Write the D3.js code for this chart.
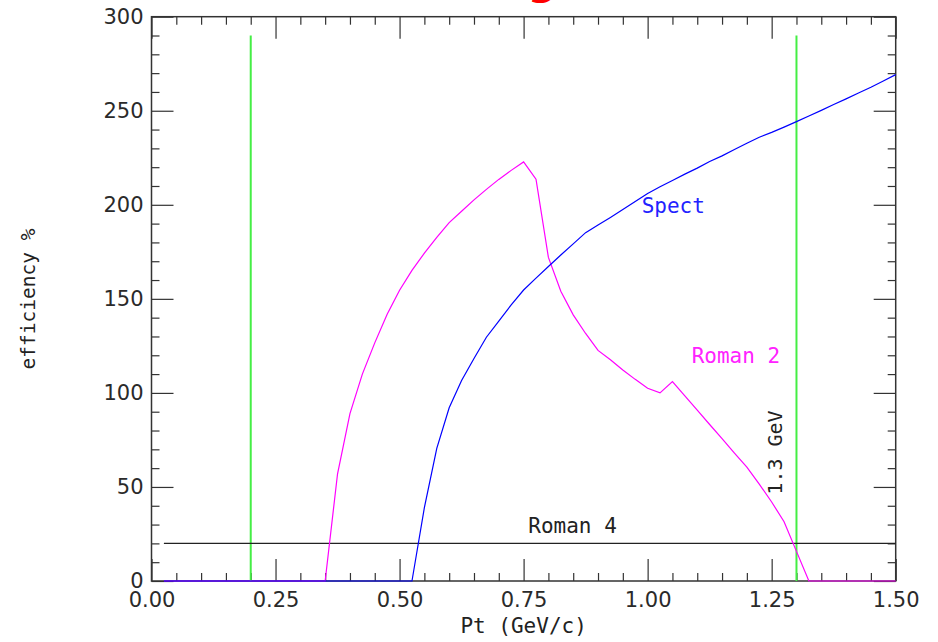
<!DOCTYPE html>
<html>
<head>
<meta charset="utf-8">
<script src="https://cdn.jsdelivr.net/npm/d3@7"></script>
<style>
  body { margin: 0; background: #fff; }
  svg { display: block; }
</style>
</head>
<body>
<div id="chart"></div>
<script>
// values
const roman2Pt = [0.025, 0.35, 0.375, 0.4, 0.425, 0.45, 0.475, 0.5, 0.525, 0.55, 0.575, 0.6, 0.625, 0.65, 0.675, 0.7, 0.725, 0.75,
    0.775, 0.8, 0.825, 0.85, 0.875, 0.9, 0.925, 0.95, 0.975, 1.0, 1.025, 1.05, 1.075, 1.1, 1.125, 1.15, 1.175, 1.2, 1.225, 1.25,
    1.275, 1.3, 1.325, 1.5];
const roman2Eff = [0, 0, 57, 89, 110, 126.6, 141.8, 154.6, 165.1, 174.3, 182.7, 190.5, 196.6, 202.6, 208.2, 213.5, 218.3, 222.8,
    213.6, 172, 154, 141.5, 131.6, 122.6, 117.6, 112.2, 107.2, 102.5, 100, 106, 98.4, 90.8, 83.2, 75.7, 68, 60.5, 51.5, 42,
    31.5, 15.75, 0, 0];

const spectPt = [0.025, 0.525, 0.55, 0.575, 0.6, 0.625, 0.65, 0.675, 0.7, 0.725, 0.75, 0.775, 0.8, 0.825, 0.85, 0.875, 0.9,
    0.925, 0.95, 0.975, 1.0, 1.025, 1.05, 1.075, 1.1, 1.125, 1.15, 1.175, 1.2, 1.225, 1.25, 1.275, 1.3, 1.325, 1.35, 1.375,
    1.4, 1.425, 1.45, 1.475, 1.5];
const spectEff = [0, 0, 39, 70.5, 92.1, 106.6, 118.3, 129.6, 138.2, 146.8, 154.7, 161, 167.2, 173.3, 179.2, 185.2, 189.3,
    193.3, 197.5, 201.8, 206, 209.6, 212.9, 216.3, 219.5, 223, 226, 229.4, 232.7, 235.9, 238.5, 241.3, 244.2, 247.2, 250.2, 253.3,
    256.3, 259.4, 262.5, 265.8, 269.2];

const roman4Pt = [0.025, 1.5];
const roman4Eff = [20, 20];

const cutPt = [0.2, 1.3];
const cutEff = [0, 290];

const xTicks = [0, 0.25, 0.5, 0.75, 1.0, 1.25, 1.5];
const yTicks = [0, 50, 100, 150, 200, 250, 300];

const drawChart = function(){
    const W = 938, H = 642;
    const margin = { top: 16.7, right: 42.3, bottom: 61, left: 151.5 };
    const width = W - margin.left - margin.right;
    const height = H - margin.top - margin.bottom;

    const svg = d3.select("#chart")
        .append("svg")
        .attr("width", W)
        .attr("height", H);

    // red title, mostly off the top of the picture
    svg.append("text")
        .attr("x", 560)
        .attr("y", -6)
        .attr("text-anchor", "end")
        .style("font-family", "DejaVu Sans")
        .style("font-weight", "bold")
        .style("font-style", "italic")
        .style("font-size", "40px")
        .attr("fill", "#ff0000")
        .text("Roman Pot tag");

    const g = svg.append("g")
        .attr("transform", `translate(${margin.left},${margin.top})`);

    const x = d3.scaleLinear().domain([0, 1.5]).range([0, width]);
    const y = d3.scaleLinear().domain([0, 300]).range([height, 0]);

    const xMinor = d3.range(0, 31).map(i => i * 0.05).filter(v => !xTicks.some(t => Math.abs(t - v) < 1e-6));
    const yMinor = d3.range(0, 31).map(i => i * 10).filter(v => v % 50 !== 0);

    const styleAxis = function(sel){
        sel.select(".domain").remove();
        sel.selectAll("line").attr("stroke", "#333").attr("stroke-width", 1.2);
        sel.selectAll("text")
            .style("font-family", "DejaVu Sans")
            .style("font-size", "21px")
            .attr("fill", "#2a2a2a");
    };

    // bottom
    g.append("g").attr("transform", `translate(0,${height})`)
        .call(d3.axisBottom(x).tickValues(xTicks).tickSize(-22).tickPadding(11).tickFormat(d3.format(".2f")))
        .call(styleAxis);
    g.append("g").attr("transform", `translate(0,${height})`)
        .call(d3.axisBottom(x).tickValues(xMinor).tickSize(-8).tickFormat(""))
        .call(styleAxis);
    // top
    g.append("g")
        .call(d3.axisTop(x).tickValues(xTicks).tickSize(-22).tickFormat(""))
        .call(styleAxis);
    g.append("g")
        .call(d3.axisTop(x).tickValues(xMinor).tickSize(-8).tickFormat(""))
        .call(styleAxis);
    // left
    g.append("g")
        .call(d3.axisLeft(y).tickValues(yTicks).tickSize(-22).tickPadding(8).tickFormat(d3.format("d")))
        .call(styleAxis);
    g.append("g")
        .call(d3.axisLeft(y).tickValues(yMinor).tickSize(-8).tickFormat(""))
        .call(styleAxis);
    // right
    g.append("g").attr("transform", `translate(${width},0)`)
        .call(d3.axisRight(y).tickValues(yTicks).tickSize(-22).tickFormat(""))
        .call(styleAxis);
    g.append("g").attr("transform", `translate(${width},0)`)
        .call(d3.axisRight(y).tickValues(yMinor).tickSize(-8).tickFormat(""))
        .call(styleAxis);

    g.append("rect")
        .attr("width", width)
        .attr("height", height)
        .attr("fill", "none")
        .attr("stroke", "#333")
        .attr("stroke-width", 1.5);

    const line = d3.line().x(d => x(d[0])).y(d => y(d[1]));

    // green cut lines
    cutPt.forEach(p => {
        g.append("path")
            .datum(cutEff.map(e => [p, e]))
            .attr("d", line)
            .attr("fill", "none")
            .attr("stroke", "#44ee44")
            .attr("stroke-width", 2);
    });

    g.append("path")
        .datum(roman4Pt.map((p, i) => [p, roman4Eff[i]]))
        .attr("d", line)
        .attr("fill", "none")
        .attr("stroke", "#222")
        .attr("stroke-width", 1.2);

    g.append("path")
        .datum(roman2Pt.map((p, i) => [p, roman2Eff[i]]))
        .attr("d", line)
        .attr("fill", "none")
        .attr("stroke", "#ff00ff")
        .attr("stroke-width", 1.2);

    g.append("path")
        .datum(spectPt.map((p, i) => [p, spectEff[i]]))
        .attr("d", line)
        .attr("fill", "none")
        .attr("stroke", "#0000ff")
        .attr("stroke-width", 1.2);

    const mono = "DejaVu Sans Mono";
    const label = function(px, py, txt, color){
        svg.append("text")
            .attr("x", px)
            .attr("y", py)
            .style("font-family", mono)
            .style("font-size", "21px")
            .attr("fill", color)
            .text(txt);
    };
    label(641.7, 212.5, "Spect", "#2222ff");
    label(691.7, 363, "Roman 2", "#ff22ff");
    label(528.3, 532.5, "Roman 4", "#222");

    svg.append("text")
        .attr("transform", "translate(781.5,452.5) rotate(-90)")
        .attr("text-anchor", "middle")
        .style("font-family", mono)
        .style("font-size", "20px")
        .attr("fill", "#222")
        .text("1.3 GeV");

    svg.append("text")
        .attr("x", margin.left + x(0.75))
        .attr("y", 633)
        .attr("text-anchor", "middle")
        .style("font-family", mono)
        .style("font-size", "21px")
        .attr("fill", "#222")
        .text("Pt (GeV/c)");

    svg.append("text")
        .attr("transform", "translate(35,299) rotate(-90)")
        .attr("text-anchor", "middle")
        .style("font-family", mono)
        .style("font-size", "19.5px")
        .attr("fill", "#222")
        .text("efficiency %");
}

window.onload = function(){
    drawChart();
}
</script>
</body>
</html>
